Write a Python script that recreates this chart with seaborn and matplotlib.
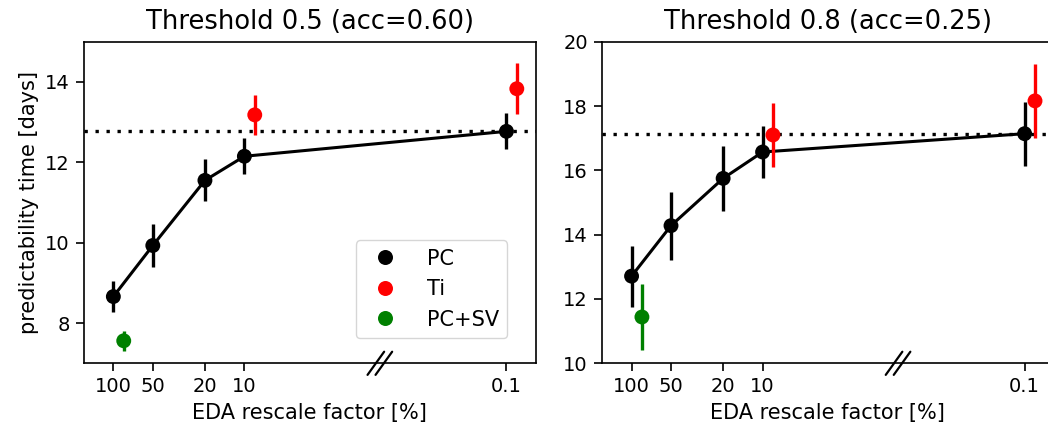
import numpy as np
import pandas as pd
import seaborn as sns
import matplotlib.pyplot as plt
import matplotlib.transforms as mtransforms

# ---------------- data
rescale = [100, 50, 20, 10, 0.1]          # EDA rescale factor [%]
tick_labels = ["100", "50", "20", "10", "0.1"]

# threshold 0.5
pc_05 = [8.66, 9.93, 11.55, 12.15, 12.77]
pc_05_err = [0.38, 0.53, 0.52, 0.45, 0.45]
ti_x = [10, 0.1]
ti_05 = [13.18, 13.83]
ti_05_err = [0.50, 0.63]
sv_x = [100]
sv_05 = [7.56]
sv_05_err = [0.25]

# threshold 0.8
pc_08 = [12.71, 14.28, 15.75, 16.57, 17.14]
pc_08_err = [0.95, 1.06, 1.00, 0.82, 1.00]
ti_08 = [17.10, 18.16]
ti_08_err = [1.00, 1.16]
sv_08 = [11.44]
sv_08_err = [1.03]

titles = ["Threshold 0.5 (acc=0.60)", "Threshold 0.8 (acc=0.25)"]
colors = {"PC": "black", "Ti": "red", "PC+SV": "green"}
shift = 1.2    # small horizontal offset for Ti / PC+SV points (log axis)

sns.set_style("ticks")
plt.rcParams["font.family"] = ["DejaVu Sans"]
for k in ["text.color", "axes.labelcolor", "xtick.color", "ytick.color", "axes.edgecolor"]:
    plt.rcParams[k] = "black"

fig = plt.figure(figsize=(10.48, 4.32), dpi=100)
bottom, height = 1 - 363.3 / 432, 321.6 / 432
ax1 = fig.add_axes([83.5 / 1048, bottom, 452 / 1048, height])
ax2 = fig.add_axes([601.7 / 1048, bottom, 452 / 1048, height])   # right edge cut off, as in the reference


def make_df(pc, pc_err, ti, ti_err, sv, sv_err):
    parts = [
        pd.DataFrame({"x": rescale, "y": pc, "err": pc_err, "group": "PC"}),
        pd.DataFrame({"x": np.array(ti_x) / shift, "y": ti, "err": ti_err, "group": "Ti"}),
        pd.DataFrame({"x": np.array(sv_x) / shift, "y": sv, "err": sv_err, "group": "PC+SV"}),
    ]
    return pd.concat(parts, ignore_index=True)


panels = [
    (ax1, make_df(pc_05, pc_05_err, ti_05, ti_05_err, sv_05, sv_05_err), (7, 15), [8, 10, 12, 14]),
    (ax2, make_df(pc_08, pc_08_err, ti_08, ti_08_err, sv_08, sv_08_err), (10, 20), [10, 12, 14, 16, 18, 20]),
]

for i, (ax, df, ylim, yticks) in enumerate(panels):
    pc = df[df.group == "PC"]
    sns.lineplot(data=pc, x="x", y="y", color="black", lw=2.2, ax=ax, legend=False, zorder=2)
    for g, sub in df.groupby("group"):
        ax.errorbar(sub.x, sub.y, yerr=sub.err, fmt="none", ecolor=colors[g], elinewidth=2.4, zorder=3)
    sns.scatterplot(data=df, x="x", y="y", hue="group", palette=colors,
                    hue_order=["PC", "Ti", "PC+SV"], s=115, linewidth=0,
                    ax=ax, legend=(i == 0), zorder=4)
    ax.axhline(pc.y.iloc[-1], color="black", ls=(0, (1, 2.3)), lw=2.4, zorder=1)

    ax.set_xscale("log")
    ax.set_xlim(169, 0.060)
    ax.set_xticks(rescale)
    ax.set_xticklabels(tick_labels)
    ax.minorticks_off()
    ax.set_ylim(*ylim)
    ax.set_yticks(yticks)
    ax.tick_params(labelsize=14, width=1.2, length=6, pad=4)
    for sp in ax.spines.values():
        sp.set_linewidth(1.2)
    ax.set_title(titles[i], fontsize=18.5, pad=9)
    ax.set_xlabel("EDA rescale factor [%]", fontsize=15, labelpad=5)
    ax.set_ylabel("predictability time [days]" if i == 0 else "", fontsize=15)

    # axis break marks "//"
    base = mtransforms.blended_transform_factory(ax.transData, ax.transAxes)
    for dx in (-4, 4):
        off = mtransforms.ScaledTranslation(dx / 100, 0, fig.dpi_scale_trans)
        ax.plot([0.925 * 10 ** (8.3 / 131), 0.925 * 10 ** (-8.3 / 131)], [-0.036, 0.036],
                transform=base + off, color="black", lw=1.6, clip_on=False, zorder=5)

leg = ax1.legend(loc="lower right", bbox_to_anchor=(0.937, 0.079), borderaxespad=0,
                 fontsize=15, handletextpad=1.0, labelspacing=0.5)
for h in leg.legend_handles:
    h.set_markersize(10.8)

fig.savefig("out.png", dpi=100)
